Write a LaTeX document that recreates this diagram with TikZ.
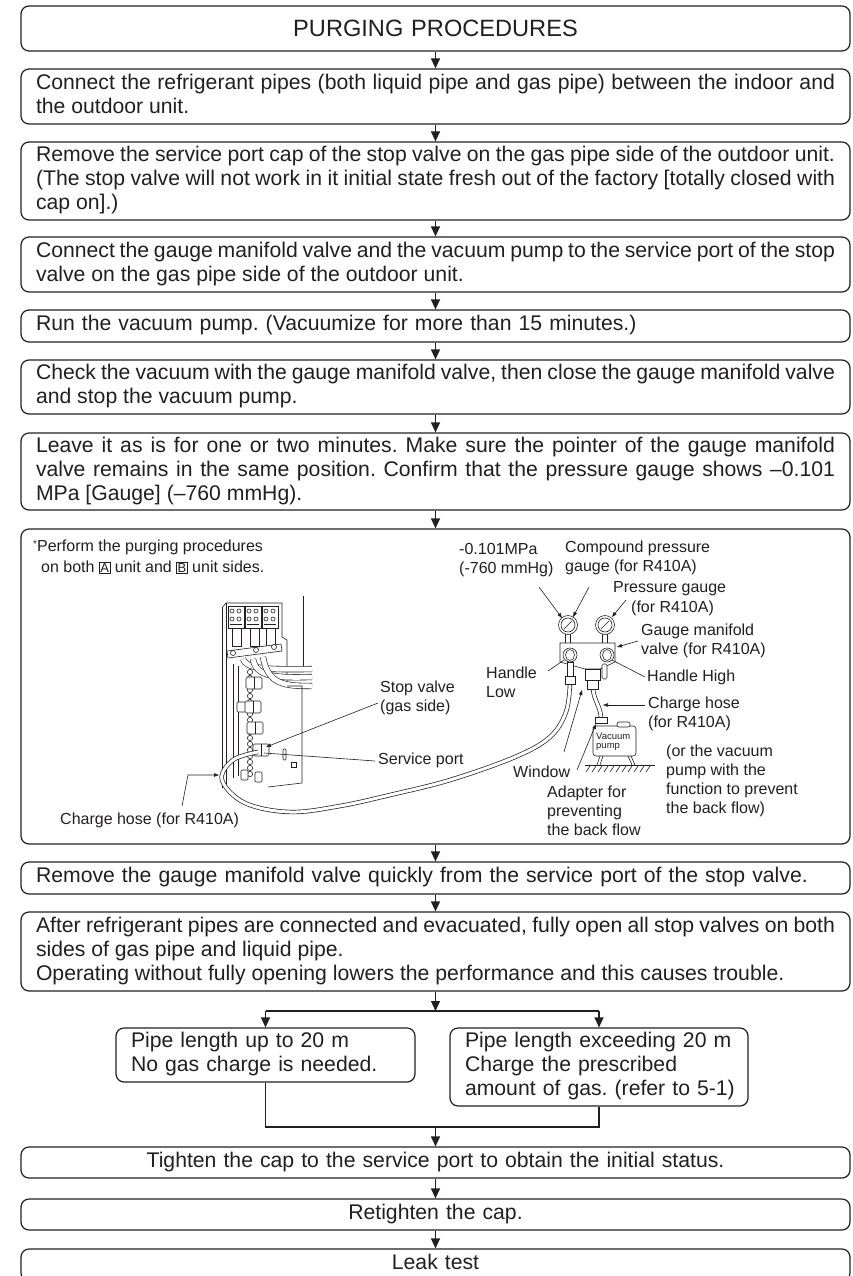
\documentclass[tikz,border=0pt]{standalone}
\usepackage{fontspec}
\setmainfont{Liberation Sans}
\usetikzlibrary{arrows.meta}
\definecolor{ink}{HTML}{231F20}
\newcommand\mainfs{\fontsize{21.2}{24}\selectfont}
\newcommand\titlefs{\fontsize{23.6}{26}\selectfont}
\newcommand\lblfs{\fontsize{16}{18.8}\selectfont}
\newcommand\tinyfs{\fontsize{9.5}{10.5}\selectfont}
\newcommand\boxltr[1]{{\setlength{\fboxsep}{0.8pt}\setlength{\fboxrule}{0.6pt}\fbox{\fontsize{13}{13}\selectfont #1}}}
\newcommand\oneline[1]{\makebox[\linewidth][l]{#1}}
\tolerance=9999
\hyphenpenalty=10000
\frenchspacing
\tikzset{
  box/.style={draw=ink, line width=1.2pt, rounded corners=8pt, minimum width=829pt,
    text width=799pt, inner xsep=15pt, inner ysep=0pt, align=justify, font=\mainfs, text=ink},
  subbox/.style={draw=ink, line width=1.2pt, rounded corners=8pt, inner xsep=15pt,
    inner ysep=0pt, align=left, font=\mainfs, text=ink},
  flow/.style={draw=ink, line width=1.2pt, -{Triangle[length=10pt,width=9pt]}},
  joinl/.style={draw=ink, line width=1.2pt},
  lbl/.style={font=\lblfs, text=ink, inner sep=0pt, anchor=west, align=left},
  lead/.style={draw=ink, line width=0.6pt},
  leadar/.style={draw=ink, line width=0.6pt, -{Triangle[length=5pt,width=3.5pt]}},
  hose/.style={draw=ink, line width=0.7pt, double=white, double distance=3pt},
  pipe/.style={draw=ink, line width=0.6pt, double=white, double distance=5pt},
  part/.style={draw=ink, line width=0.6pt, fill=white},
  thinl/.style={draw=ink, line width=0.6pt}
}
\begin{document}
\begin{tikzpicture}[x=1pt,y=-1pt]
\useasboundingbox (0,0) rectangle (852,1276);
\fill[white] (0,0) rectangle (852,1276);

% ---------- flow boxes ----------
\node[box, align=center, minimum height=45pt, font=\titlefs] (t) at (435.5,28.5) {PURGING PROCEDURES};
\node[box, minimum height=55pt] (b1) at (435.5,96.5) {\strut Connect the refrigerant pipes (both liquid pipe and gas pipe) between the indoor and\linebreak the outdoor unit.\strut};
\node[box, minimum height=78pt] (b2) at (435.5,181) {\strut Remove the service port cap of the stop valve on the gas pipe side of the outdoor unit.\linebreak (The stop valve will not work in it initial state fresh out of the factory [totally closed with\linebreak cap on].)\strut};
\node[box, minimum height=55pt] (b3) at (435.5,264.5) {\strut Connect the gauge manifold valve and the vacuum pump to the service port of the stop\linebreak valve on the gas pipe side of the outdoor unit.\strut};
\node[box, minimum height=32pt, align=left] (b4) at (435.5,326) {\strut Run the vacuum pump. (Vacuumize for more than 15 minutes.)\strut};
\node[box, minimum height=54pt] (b5) at (435.5,387) {\strut Check the vacuum with the gauge manifold valve, then close the gauge manifold valve\linebreak and stop the vacuum pump.\strut};
\node[box, minimum height=77pt] (b6) at (435.5,471.5) {\strut Leave it as is for one or two minutes. Make sure the pointer of the gauge manifold\linebreak valve remains in the same position. Confirm that the pressure gauge shows –0.101\linebreak MPa [Gauge] (–760 mmHg).\strut};
\node[box, minimum height=315pt] (il) at (435.5,686.5) {};
\node[box, minimum height=32pt, align=left] (b7) at (435.5,878) {\strut Remove the gauge manifold valve quickly from the service port of the stop valve.\strut};
\node[box, minimum height=79pt] (b8) at (435.5,951.5) {\strut After refrigerant pipes are connected and evacuated, fully open all stop valves on both\linebreak sides of gas pipe and liquid pipe.\\ Operating without fully opening lowers the performance and this causes trouble.\strut};
\node[subbox, text width=269pt, minimum height=54pt] (sl) at (265.5,1055) {\oneline{\strut Pipe length up to 20 m}\\ \oneline{No gas charge is needed.\strut}};
\node[subbox, text width=268pt, minimum height=78pt] (sr) at (599,1067) {\oneline{\strut Pipe length exceeding 20 m}\\ \oneline{Charge the prescribed}\\ \oneline{amount of gas. (refer to 5-1)\strut}};
\node[box, align=center, minimum height=31pt] (b9) at (435.5,1162.5) {\strut Tighten the cap to the service port to obtain the initial status.\strut};
\node[box, align=center, minimum height=31pt] (b10) at (435.5,1214.5) {\strut Retighten the cap.\strut};
\node[box, align=center, minimum height=32pt] (b11) at (435.5,1265) {\strut Leak test\strut};

% ---------- flow connectors ----------
\draw[flow] (t.south) -- (b1.north);
\draw[flow] (b1.south) -- (b2.north);
\draw[flow] (b2.south) -- (b3.north);
\draw[flow] (b3.south) -- (b4.north);
\draw[flow] (b4.south) -- (b5.north);
\draw[flow] (b5.south) -- (b6.north);
\draw[flow] (b6.south) -- (il.north);
\draw[flow] (il.south) -- (b7.north);
\draw[flow] (b7.south) -- (b8.north);
\coordinate (j) at (435.5,1011);
\coordinate (jl) at (265.5,1011);
\coordinate (jr) at (599,1011);
\draw[flow] (b8.south) -- (j);
\draw[joinl] (jl) -- (jr);
\draw[flow] (jl) -- (sl.north);
\draw[flow] (jr) -- (sr.north);
\coordinate (m) at (435.5,1127);
\draw[joinl] (sl.south) |- (m);
\draw[joinl] (sr.south) |- (m);
\draw[flow] (m) -- (b9.north);
\draw[flow] (b9.south) -- (b10.north);
\draw[flow] (b10.south) -- (b11.north);

% ---------- illustration: labels ----------
\node[lbl] (nPerf) at (33,547) {\raisebox{4pt}{\fontsize{10}{10}\selectfont*}Perform the purging procedures};
\node[lbl] (nBoth) at (41,567) {on both \boxltr{A} unit and \boxltr{B} unit sides.};
\node[lbl] (nMPa) at (459,560) {-0.101MPa\\(-760 mmHg)};
\node[lbl] (nComp) at (565,557.5) {Compound pressure\\gauge (for R410A)};
\node[lbl] (nPg1) at (613,589) {Pressure gauge};
\node[lbl] (nPg2) at (631,608) {(for R410A)};
\node[lbl] (nGm) at (641,641) {Gauge manifold\\valve (for R410A)};
\node[lbl] (nHl) at (486,682) {Handle\\Low};
\node[lbl] (nHh) at (647,677) {Handle High};
\node[lbl] (nCh) at (648,714) {Charge hose\\(for R410A)};
\node[lbl] (nOr) at (666,781) {(or the vacuum\\pump with the\\function to prevent\\the back flow)};
\node[lbl] (nWin) at (513,772) {Window};
\node[lbl] (nAd) at (547,811) {Adapter for\\preventing\\the back flow};
\node[lbl] (nSv) at (380,697.5) {Stop valve\\(gas side)};
\node[lbl] (nSp) at (378,760) {Service port};
\node[lbl] (nCh2) at (60,820) {Charge hose (for R410A)};

% ---------- outdoor unit ----------
\draw[thinl] (303,596) -- (303,668);
\draw[thinl] (282,603) -- (282,637) -- (287,640) -- (287,686);
\draw[thinl] (226,603) -- (226,786);
\draw[thinl] (222,608) -- (222,788);
\draw[thinl] (222,608) -- (226,603) -- (282,603);
\foreach \xx in {228,245,262} {
  \draw[part] (\xx,606) rectangle ++(16,22);
  \draw[thinl] (\xx+4,611) circle (2pt) (\xx+11,611) circle (2pt) (\xx+4,619) circle (2pt) (\xx+11,619) circle (2pt);
  \draw[thinl] (\xx+2,624) -- (\xx+14,624);
}
\foreach \xx in {232,250,266} \draw[part] (\xx,628) rectangle ++(9,18);
\draw[part] (227,651) -- (281,644) -- (282,651) -- (228,658) -- cycle;
\foreach \p in {(233,653),(256,650),(274,647)} \draw[part] \p circle (2.5pt);
\draw[pipe] (243,659) .. controls (246,668) and (262,670) .. (312,669);
\draw[pipe] (253,659) .. controls (256,677) and (275,678) .. (312,677);
\draw[pipe] (263,657) .. controls (268,685) and (285,686) .. (312,686);
\draw[thinl] (233,664) -- (233,778);
\draw[thinl] (238,666) -- (238,776);
\draw[thinl] (287,686) -- (302,686) -- (302,783) -- (268,787);
\draw[thinl, rounded corners=1pt] (283,749) rectangle (286,760);
\draw[thinl] (291,762) rectangle (296,767);
\foreach \y in {672,678,...,774} \draw[part] (250,\y) circle (2.6pt);
\draw[part, rounded corners=1pt] (237,702) rectangle (246,712);
\foreach \p in {(254,683),(253,707),(255,728),(261,750)} {
  \draw[part, rounded corners=1.5pt] \p ++(-8,-6) rectangle ++(16,12);
  \draw[thinl] \p ++(0,-6) -- ++(0,12);
}
\draw[part, rounded corners=1pt] (241,770) rectangle (248,780);
\draw[part, rounded corners=1pt] (255,772) rectangle (262,782);

% ---------- hoses ----------
\draw[hose] plot[smooth, tension=0.6] coordinates {(570,684) (566,712) (550,737) (515,757) (450,780) (390,795) (340,806) (290,812) (245,803) (222,780) (233,760) (258,752)};
\draw[hose] (593,689) .. controls (594,700) and (600,706) .. (601,717);

% ---------- manifold & gauges ----------
\foreach \cx in {568,605} {
  \draw[part] (\cx-2.5,633) rectangle (\cx+2.5,644);
  \draw[part] (\cx,625) circle (9.5pt);
  \draw[thinl] (\cx,625) circle (7pt);
  \draw[thinl] (\cx-4,629) -- (\cx+4,621);
}
\draw[part] (560,643) -- (615,643) -- (615,662) -- (600,669) -- (585,669) -- (560,662) -- cycle;
\foreach \cx in {570,607} {
  \draw[part] (\cx,655) circle (7pt);
  \draw[thinl] (\cx,655) ellipse (4.5pt and 5.5pt);
}
\draw[part] (567,662) rectangle (573,676);
\draw[part] (565,676) rectangle (575,684);
\draw[part] (585,669) rectangle (600,680);
\draw[part] (587,680) rectangle (598,689);
\draw[part, rounded corners=1.5pt] (602,664) rectangle (607,679);

% ---------- vacuum pump ----------
\draw[part] (595,717) rectangle (607,723);
\draw[part, rounded corners=3pt] (593,726) rectangle (636,756);
\draw[part, rounded corners=2pt] (617,722) rectangle (630,727);
\node[font=\tinyfs, text=ink, inner sep=0pt, anchor=west] (vp1) at (596,736) {Vacuum};
\node[font=\tinyfs, text=ink, inner sep=0pt, anchor=west] (vp2) at (596,747) {pump};
\draw[thinl] (600,756) -- (597,765) (603,756) -- (600,765);
\draw[thinl] (628,756) -- (632,765) (631,756) -- (635,765);
\draw[thinl] (585,765) -- (655,765);
\foreach \xx in {586,592,...,650} \draw[thinl] (\xx,772) -- (\xx+4,766);

% ---------- leaders ----------
\draw[leadar] (539,587) -- (562,618);
\draw[leadar] (589,587) -- (573,617);
\draw[leadar] (626,600) -- (612,617);
\draw[leadar] (638,641) -- (617,647);
\draw[lead] (548,671) -- (564,660);
\draw[lead] (645,677) -- (612,660);
\draw[leadar] (645,705) -- (603,705);
\draw[leadar] (564,752) -- (582,690);
\draw[leadar] (577,770) -- (596,724);
\draw[leadar] (378,703) -- (266,747);
\draw[lead] (375,761) -- (264,753);
\draw[leadar] (182,806) -- (188,775) -- (219,775);
\end{tikzpicture}
\end{document}
